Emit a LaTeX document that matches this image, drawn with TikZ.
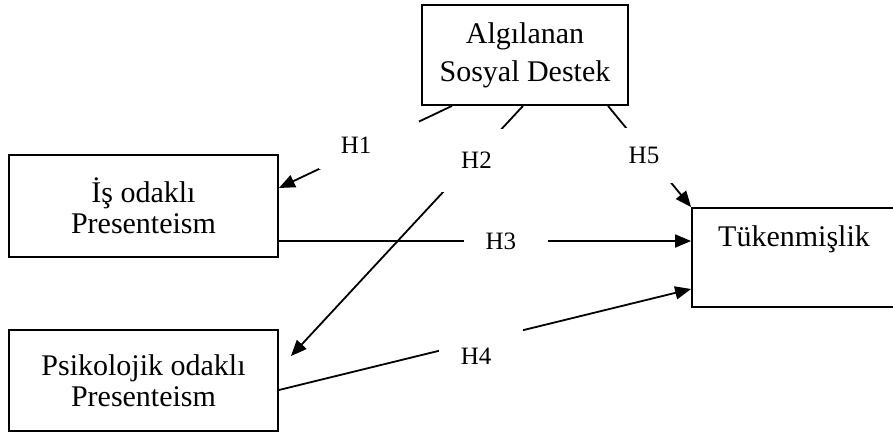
\documentclass[tikz,border=0pt]{standalone}
\usepackage{fontspec}
\setmainfont{Liberation Serif}
\usetikzlibrary{arrows.meta,positioning}

\begin{document}
\begin{tikzpicture}[->,>={Triangle[length=8pt,width=6.5pt]},line width=0.9pt,
    x=0.5pt,y=-0.5pt,
    main box/.style={draw,rectangle,align=center,inner sep=0pt,
                     font=\fontsize{15}{15.5}\selectfont},
    hyp/.style={fill=white,align=left,text width=20pt,inner xsep=11pt,inner ysep=0pt,
                minimum height=27.5pt,font=\fontsize{12.5}{14}\selectfont}]

    \useasboundingbox (0,0) rectangle (893,434);

    % Define vertices
    \node[main box,minimum width=103pt,minimum height=50pt] (destek) at (525,55) {Algılanan\\[3.5pt]Sosyal Destek};
    \node[main box,minimum width=134.5pt,minimum height=51pt] (is) [on grid,below left=75.5pt and 190.75pt of destek] {İş odaklı\\Presenteism};
    \node[main box,minimum width=134.5pt,minimum height=50.5pt] (psi) [on grid,below=87.25pt of is] {Psikolojik odaklı\\Presenteism};
    \node[main box,minimum width=102pt,minimum height=49.5pt,text height=10pt,text depth=21.5pt] (tuk) [on grid,below right=101.25pt and 134.5pt of destek] {Tükenmişlik};

    \coordinate (h3) at ([yshift=-17.5pt]is.east);

    % Draw edges
    \path
        ([xshift=-36.5pt]destek.south) edge node[hyp,pos=0.48,text width=28pt,minimum height=24pt] {H1} ([yshift=9pt]is.east)
        ([xshift=-1pt]destek.south) edge node[hyp,pos=0.18,yshift=-4.6pt,minimum height=31.5pt] {H2} ([xshift=6pt,yshift=-13.5pt]psi.north east)
        (h3) edge node[hyp,pos=0.55] {H3} (h3 -| tuk.west)
        ([yshift=-4.75pt]psi.east) edge node[hyp,pos=0.49,yshift=-8pt,minimum height=28pt] {H4} ([yshift=-15.75pt]tuk.west)
        ([xshift=41.5pt]destek.south) edge node[hyp,pos=0.49] {H5} (tuk.north west);

\end{tikzpicture}
\end{document}
